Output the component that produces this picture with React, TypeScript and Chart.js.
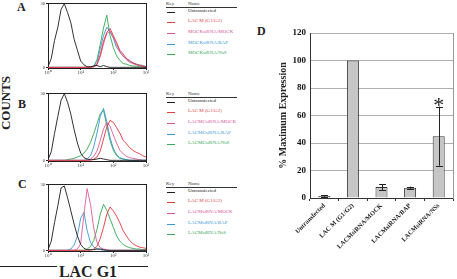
import React, { useEffect, useRef } from 'react';
import { Chart, registerables } from 'chart.js';
Chart.register(...registerables);

// ---------- histogram data (FL channel bins, % of panel max counts) ----------
const channelBins = [1, 1.26, 1.58, 2, 2.51, 3.16, 3.98, 5.01, 6.31, 7.94, 10, 12.6, 15.8, 20, 25.1, 31.6, 39.8, 50.1, 63.1, 79.4, 100, 126, 158, 200, 251, 316, 398, 501, 631, 794, 1000];
const decadeTicks = [1, 10, 100, 1000];
const decadeLabels = ['10⁰', '10¹', '10²', '10³'];
const countTicks = [0, 100];
const countTickLabels = ['0', '30'];

// Panel A
const untransfectedA = [1, 14, 42, 63, 91, 100, 86, 70, 44, 27, 10, 4, 1, 1, 2, 3, 1, 3, 1, 0, 0, 0, 0, 0, 0, 0, 0, 0, 0, 0, 0];
const lacmA = [0, 0, 0, 0, 0, 0, 0, 0, 0, 0, 0, 0, 0, 0, 1, 5, 20, 41, 55, 61, 50, 39, 27, 21, 14, 11, 7, 5, 3, 2, 1];
const mockMockA = [0, 0, 0, 0, 0, 0, 0, 0, 0, 0, 0, 0, 0, 0, 1, 4, 17, 37, 53, 57, 47, 36, 24, 18, 12, 8, 6, 4, 3, 2, 1];
const mockBapA = [0, 0, 0, 0, 0, 0, 0, 0, 0, 0, 0, 0, 0, 0, 2, 8, 29, 50, 63, 56, 46, 31, 25, 17, 14, 9, 7, 5, 4, 3, 1];
const mockNssA = [0, 0, 0, 0, 0, 0, 0, 0, 0, 0, 0, 0, 0, 0, 2, 12, 36, 62, 82, 50, 31, 18, 11, 6, 5, 3, 2, 2, 1, 1, 0];
// Panel B
const untransfectedB = [1, 13, 40, 66, 90, 100, 87, 69, 46, 26, 11, 4, 2, 1, 1, 2, 3, 2, 1, 0, 0, 0, 0, 0, 0, 0, 0, 0, 0, 0, 0];
const lacmB = [0, 0, 0, 0, 0, 0, 0, 0, 0, 0, 0, 0, 0, 0, 2, 5, 14, 32, 50, 60, 57, 49, 41, 30, 25, 19, 15, 12, 10, 7, 5];
const lacmcMockB = [0, 0, 0, 0, 0, 0, 0, 0, 0, 0, 0, 0, 0, 2, 6, 14, 30, 47, 57, 51, 38, 26, 15, 10, 6, 4, 3, 2, 1, 0, 0];
const lacmcBapB = [0, 0, 0, 0, 0, 0, 0, 0, 0, 0, 0, 0, 2, 7, 20, 41, 66, 78, 58, 34, 18, 8, 4, 2, 1, 0, 0, 0, 0, 0, 0];
const lacmcNssB = [0, 0, 0, 0, 0, 0, 1, 2, 3, 5, 7, 11, 17, 27, 40, 55, 70, 75, 52, 30, 15, 7, 3, 2, 1, 0, 0, 0, 0, 0, 0];
// Panel C
const untransfectedC = [1, 14, 42, 68, 95, 98, 80, 60, 40, 22, 9, 3, 1, 1, 1, 2, 2, 1, 0, 0, 0, 0, 0, 0, 0, 0, 0, 0, 0, 0, 0];
const lacmC = [0, 0, 0, 0, 0, 0, 0, 0, 0, 0, 0, 0, 0, 0, 2, 6, 18, 35, 55, 66, 60, 52, 42, 30, 22, 15, 10, 7, 5, 4, 3];
const lacmMockC = [0, 0, 0, 0, 0, 0, 0, 0, 0, 2, 10, 55, 94, 70, 34, 12, 4, 2, 1, 0, 0, 0, 0, 0, 0, 0, 0, 0, 0, 0, 0];
const lacmBapC = [0, 0, 0, 0, 0, 0, 0, 2, 8, 22, 49, 58, 30, 12, 5, 2, 1, 0, 0, 0, 0, 0, 0, 0, 0, 0, 0, 0, 0, 0, 0];
const lacmNssC = [0, 0, 0, 0, 0, 0, 0, 0, 0, 0, 0, 0, 2, 6, 15, 32, 55, 70, 61, 48, 35, 22, 14, 9, 6, 4, 3, 2, 2, 1, 1];

const namesA = ['Untransfected', 'LAC M (G1/G2)', 'MOCKsiRNA/MOCK', 'MOCKsiRNA/BAP', 'MOCKsiRNA/NsS'];
const namesB = ['Untransfected', 'LAC M (G1/G2)', 'LACMCsiRNA/MOCK', 'LACMCsiRNA/BAP', 'LACMCsiRNA/NsS'];
const namesC = ['Untransfected', 'LAC M (G1/G2)', 'LACMsiRNA/MOCK', 'LACMsiRNA/BAP', 'LACMsiRNA/NsS'];

// ---------- bar chart data ----------
const barCategories = ['Untransfected', 'LAC M (G1/G2)', 'LACMsiRNA/MOCK', 'LACMsiRNA/BAP', 'LACMsiRNA/NSs'];
const barValues = [1.5, 100, 8, 7.5, 45];
const barErrors = [0.6, 0, 2.2, 0.8, 21.5];
const barMarks = ['', '', '', '', '*'];
const pctTickMax = 120;
const pctTickStep = 20;

// ---------- styles ----------
const SERIF = '"Liberation Serif", "Times New Roman", serif';
const traceColors = ['#1c1c1c', '#e4343c', '#de5c98', '#3a94d6', '#32a852'];
const legendColors = ['#1c1c1c', '#e0403f', '#d9559a', '#3c9ad8', '#39a85a'];

function Histogram({ top, height, traces }: { top: number; height: number; traces: number[][] }) {
  const ref = useRef<HTMLCanvasElement>(null);
  useEffect(() => {
    const edge = (pos: string, type: string, min: number, max: number) => ({
      type, position: pos, min, max,
      afterFit: (s: any) => { if (pos === 'top') s.height = 0; else s.width = 0; },
      ticks: { display: false },
      grid: { drawOnChartArea: false, drawTicks: false },
      border: { display: true, color: '#222', width: 1 },
    });
    const chart = new Chart(ref.current!, {
      type: 'line',
      data: {
        datasets: traces.map((vals, k) => ({
          data: channelBins.map((x, i) => ({ x, y: vals[i] })),
          borderColor: traceColors[k],
          borderWidth: 0.9,
          pointRadius: 0,
          tension: 0,
          fill: false,
        })),
      },
      options: {
        responsive: false,
        animation: false,
        events: [],
        layout: { padding: { top: 3, right: 6, left: 0, bottom: 0 } },
        plugins: { legend: { display: false }, tooltip: { enabled: false } },
        scales: {
          x: {
            type: 'logarithmic',
            min: 1,
            max: 1000,
            afterBuildTicks: (s: any) => { s.ticks = decadeTicks.map((v) => ({ value: v })); },
            afterFit: (s: any) => { s.height = 9; },
            ticks: {
              autoSkip: false, maxRotation: 0, minRotation: 0, padding: 0,
              font: { size: 5, family: SERIF }, color: '#333',
              callback: (v: any) => decadeLabels[decadeTicks.indexOf(Number(v))] ?? '',
            },
            grid: { drawOnChartArea: false, tickLength: 2, color: '#222' },
            border: { color: '#222' },
          },
          y: {
            min: -1,
            max: 100,
            afterBuildTicks: (s: any) => { s.ticks = countTicks.map((v) => ({ value: v })); },
            afterFit: (s: any) => { s.width = 20; },
            ticks: {
              padding: 1, font: { size: 4.5, family: SERIF }, color: '#333',
              callback: (v: any) => countTickLabels[countTicks.indexOf(Number(v))] ?? '',
            },
            grid: { drawOnChartArea: false, tickLength: 2, color: '#222' },
            border: { color: '#222' },
          },
          xTop: edge('top', 'logarithmic', 1, 1000),
          yRight: edge('right', 'linear', -1, 100),
        },
      } as any,
    });
    return () => chart.destroy();
  }, []);
  return <canvas ref={ref} width={124} height={height} style={{ position: 'absolute', left: 28, top, width: 124, height }} />;
}

function Legend({ top, names }: { top: number; names: string[] }) {
  const rowOffsets = [6.5, 17, 28, 38.5, 49];
  const txt: React.CSSProperties = { position: 'absolute', fontSize: 5, lineHeight: '6px', fontFamily: SERIF, whiteSpace: 'nowrap' };
  return (
    <>
      <div style={{ ...txt, left: 166, top: top - 3, color: '#333' }}>Key</div>
      <div style={{ ...txt, left: 188, top: top - 3, color: '#333' }}>Name</div>
      <div style={{ position: 'absolute', left: 166, top: top + 3, width: 71, height: 0, borderTop: '0.8px solid #333' }} />
      {names.map((n, i) => (
        <React.Fragment key={i}>
          <div style={{ position: 'absolute', left: 167, top: top + rowOffsets[i] + 1, width: 8, height: 1, background: legendColors[i] }} />
          <div style={{ ...txt, left: 188, top: top + rowOffsets[i] - 3, color: legendColors[i] }}>{n}</div>
        </React.Fragment>
      ))}
    </>
  );
}

function BarPanel() {
  const ref = useRef<HTMLCanvasElement>(null);
  useEffect(() => {
    const extras = {
      id: 'extras',
      afterDatasetsDraw(chart: any) {
        const { ctx } = chart;
        const ys = chart.scales.y;
        const meta = chart.getDatasetMeta(0);
        ctx.save();
        ctx.strokeStyle = '#222';
        ctx.lineWidth = 1;
        meta.data.forEach((el: any, i: number) => {
          const e = barErrors[i];
          const v = barValues[i];
          if (e > 0) {
            const y1 = ys.getPixelForValue(v + e);
            const y2 = ys.getPixelForValue(v - e);
            const x = Math.round(el.x) + 0.5;
            ctx.beginPath();
            ctx.moveTo(x, y1); ctx.lineTo(x, y2);
            ctx.moveTo(x - 3.5, Math.round(y1) + 0.5); ctx.lineTo(x + 3.5, Math.round(y1) + 0.5);
            ctx.moveTo(x - 3.5, Math.round(y2) + 0.5); ctx.lineTo(x + 3.5, Math.round(y2) + 0.5);
            ctx.stroke();
          }
          if (barMarks[i]) {
            ctx.fillStyle = '#222';
            ctx.font = `22px ${SERIF}`;
            ctx.textAlign = 'center';
            ctx.textBaseline = 'alphabetic';
            ctx.fillText(barMarks[i], el.x, ys.getPixelForValue(v + e) + 5);
          }
        });
        ctx.restore();
      },
    };
    const chart = new Chart(ref.current!, {
      type: 'bar',
      data: {
        labels: barCategories,
        datasets: [{
          data: barValues,
          backgroundColor: '#c6c6c6',
          borderColor: '#333',
          borderWidth: 1,
          barPercentage: 0.42,
          categoryPercentage: 1,
        }],
      },
      options: {
        responsive: false,
        animation: false,
        events: [],
        layout: { padding: { top: 13, right: 4, left: 0, bottom: 0 } },
        plugins: { legend: { display: false }, tooltip: { enabled: false } },
        scales: {
          x: {
            afterFit: (s: any) => { s.height = 60; },
            ticks: {
              autoSkip: false, minRotation: 45, maxRotation: 45, padding: 1,
              font: { size: 6.5, weight: 'bold', family: SERIF }, color: '#222',
            },
            grid: { drawOnChartArea: false, offset: true, tickLength: 3, color: '#333' },
            border: { color: '#333' },
          },
          y: {
            min: 0,
            max: pctTickMax,
            afterFit: (s: any) => { s.width = 38; },
            ticks: { stepSize: pctTickStep, padding: 4, font: { size: 9, weight: 'bold', family: SERIF }, color: '#111' },
            grid: { color: '#9a9a9a', lineWidth: 0.8, drawTicks: false },
            border: { color: '#333' },
            title: {
              display: true, text: '% Maximum Expression', color: '#222',
              font: { size: 10, weight: 'bold', family: SERIF }, padding: { top: 5, bottom: 0 },
            },
          },
          yRight: {
            type: 'linear', position: 'right', min: 0, max: pctTickMax,
            afterFit: (s: any) => { s.width = 0; },
            ticks: { display: false },
            grid: { drawOnChartArea: false, drawTicks: false },
            border: { display: true, color: '#999' },
          },
        },
      } as any,
      plugins: [extras],
    });
    return () => chart.destroy();
  }, []);
  return <canvas ref={ref} width={185} height={238} style={{ position: 'absolute', left: 272, top: 20, width: 185, height: 238 }} />;
}

export default function App() {
  const letter: React.CSSProperties = { position: 'absolute', fontFamily: SERIF, fontWeight: 'bold', fontSize: 12, lineHeight: '12px', color: '#222' };
  return (
    <div style={{ position: 'absolute', left: 0, top: 0, width: 457, height: 279, background: '#fff', overflow: 'hidden', fontFamily: SERIF }}>
      <div style={{ ...letter, left: 17, top: 1 }}>A</div>
      <div style={{ ...letter, left: 18, top: 98 }}>B</div>
      <div style={{ ...letter, left: 18, top: 178 }}>C</div>
      <div style={{ ...letter, left: 257, top: 25 }}>D</div>
      <div style={{ position: 'absolute', left: -24, top: 95, width: 60, height: 16, lineHeight: '16px', fontSize: 13, fontWeight: 'bold', textAlign: 'center', transform: 'rotate(-90deg)', color: '#222', whiteSpace: 'nowrap' }}>COUNTS</div>

      <Histogram top={0} height={77} traces={[untransfectedA, lacmA, mockMockA, mockBapA, mockNssA]} />
      <Histogram top={90} height={80} traces={[untransfectedB, lacmB, lacmcMockB, lacmcBapB, lacmcNssB]} />
      <Histogram top={181} height={79} traces={[untransfectedC, lacmC, lacmMockC, lacmBapC, lacmNssC]} />

      <Legend top={4} names={namesA} />
      <Legend top={94} names={namesB} />
      <Legend top={184} names={namesC} />

      <div style={{ position: 'absolute', left: 0, top: 266, width: 57, height: 1, background: '#222' }} />
      <div style={{ position: 'absolute', left: 118, top: 266, width: 30, height: 1, background: '#222' }} />
      <div style={{ position: 'absolute', left: 58, top: 264, width: 60, textAlign: 'center', fontSize: 16, lineHeight: '16px', fontWeight: 'bold', color: '#222', whiteSpace: 'nowrap' }}>LAC G1</div>

      <BarPanel />
    </div>
  );
}
